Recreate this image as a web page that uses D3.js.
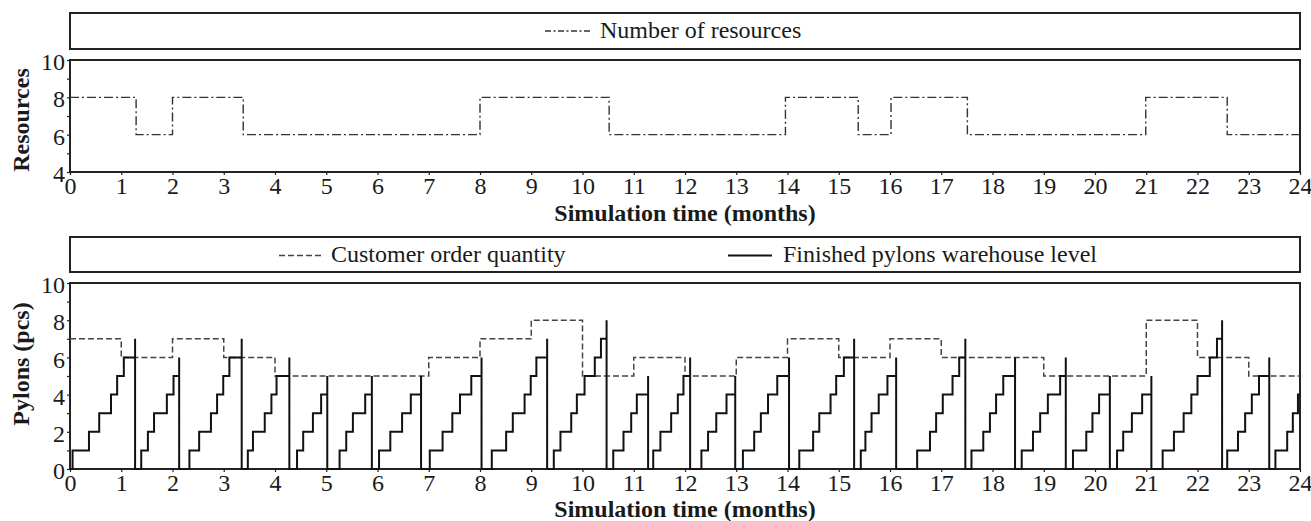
<!DOCTYPE html>
<html><head><meta charset="utf-8">
<script src="https://cdn.jsdelivr.net/npm/d3@7"></script>
<style>
body{margin:0;background:#fff;}
svg text{font-family:"Liberation Serif","Times New Roman",serif;fill:#1a1a1a;}
</style></head><body>
<svg id="c" width="1311" height="521"></svg>
<script>
// ---------- data ----------
const monthTicks = [0,1,2,3,4,5,6,7,8,9,10,11,12,13,14,15,16,17,18,19,20,21,22,23,24];
const resourceTickLabels = [4,6,8,10];
const resourceMinorTicks = [5,7,9];
const pylonTickLabels = [0,2,4,6,8,10];
const pylonMinorTicks = [1,3,5,7,9];

const resourceTimes  = [0, 1.29, 2.0, 3.38, 8.0, 10.52, 13.96, 15.38, 16.02, 17.51, 20.99, 22.58, 24];
const resourceValues = [8, 6,    8,   6,    8,   6,     8,     6,     8,     6,     8,     6,     6];

const orderTimes = [0,1,2,3,4,5,6,7,8,9,10,11,12,13,14,15,16,17,18,19,20,21,22,23,24];
const orderQty   = [7,6,7,6,5,5,5,6,7,8,5,6,5,6,7,6,7,6,6,5,5,8,6,5,5];

const warehouseTimes = [
  0,
  0.05,0.37,0.57,0.80,0.92,1.05,1.27,1.27,
  1.39,1.52,1.64,1.89,2.02,2.13,2.13,
  2.33,2.52,2.75,2.87,2.99,3.11,3.35,3.35,
  3.47,3.57,3.80,3.93,4.03,4.28,4.28,
  4.43,4.55,4.74,4.90,5.02,5.02,
  5.26,5.39,5.52,5.76,5.89,5.89,
  6.03,6.25,6.48,6.65,6.85,6.85,
  7.02,7.27,7.46,7.61,7.83,8.03,8.03,
  8.23,8.51,8.64,8.87,8.99,9.10,9.31,9.31,
  9.44,9.57,9.78,9.89,10.04,10.24,10.36,10.47,10.47,
  10.60,10.80,10.95,11.06,11.28,11.28,
  11.38,11.52,11.73,11.86,11.97,12.10,12.10,
  12.32,12.45,12.61,12.81,12.98,12.98,
  13.13,13.35,13.48,13.62,13.80,14.03,14.03,
  14.23,14.50,14.62,14.84,14.95,15.10,15.30,15.30,
  15.43,15.52,15.64,15.78,15.95,16.12,16.12,
  16.53,16.78,16.90,17.03,17.22,17.35,17.47,17.47,
  17.59,17.82,17.95,18.07,18.21,18.44,18.44,
  18.57,18.79,18.93,19.08,19.32,19.43,19.43,
  19.57,19.83,19.95,20.08,20.29,20.29,
  20.43,20.55,20.72,20.92,21.10,21.10,
  21.32,21.54,21.73,21.88,22.00,22.24,22.38,22.48,22.48,
  22.58,22.79,22.93,23.06,23.20,23.40,23.40,
  23.52,23.75,23.86,23.96,24
];
const warehouseLevels = [
  0,
  1,2,3,4,5,6,7,0,
  1,2,3,4,5,6,0,
  1,2,3,4,5,6,7,0,
  1,2,3,4,5,6,0,
  1,2,3,4,5,0,
  1,2,3,4,5,0,
  1,2,3,4,5,0,
  1,2,3,4,5,6,0,
  1,2,3,4,5,6,7,0,
  1,2,3,4,5,6,7,8,0,
  1,2,3,4,5,0,
  1,2,3,4,5,6,0,
  1,2,3,4,5,0,
  1,2,3,4,5,6,0,
  1,2,3,4,5,6,7,0,
  1,2,3,4,5,6,0,
  1,2,3,4,5,6,7,0,
  1,2,3,4,5,6,0,
  1,2,3,4,5,6,0,
  1,2,3,4,5,0,
  1,2,3,4,5,0,
  1,2,3,4,5,6,7,8,0,
  1,2,3,4,5,6,0,
  1,2,3,4,4
];

const xTitle = "Simulation time (months)";

// ---------- drawing ----------
const svg = d3.select("#c");
const FS = 24;
const x = d3.scaleLinear().domain([0,24]).range([70,1300]);
const yTop = d3.scaleLinear().domain([4,10]).range([172,60]);
const yBot = d3.scaleLinear().domain([0,10]).range([469,283]);
const frameColor = "#222";

function box(y0,y1){
  svg.append("rect").attr("x",x(0)).attr("y",y0).attr("width",x(24)-x(0)).attr("height",y1-y0)
    .attr("fill","none").attr("stroke",frameColor).attr("stroke-width",2);
}

function axes(y, labels, minor, title, titleY, yTitle, yTitleCY){
  const [yb, yt] = y.range();
  // x axis
  const gx = svg.append("g").attr("transform",`translate(0,${yb})`)
    .call(d3.axisBottom(x).tickValues(monthTicks).tickSize(3).tickPadding(2).tickFormat(d3.format("d")));
  gx.select(".domain").remove();
  gx.selectAll("text").attr("font-size",FS).attr("font-family","Liberation Serif");
  gx.selectAll("line").attr("stroke",frameColor).attr("stroke-width",1.2);
  // y axis
  const gy = svg.append("g").attr("transform",`translate(${x(0)},0)`)
    .call(d3.axisLeft(y).tickValues(labels).tickSize(3).tickPadding(2).tickFormat(d3.format("d")));
  gy.select(".domain").remove();
  gy.selectAll("text").attr("font-size",FS).attr("dy","0.4em").attr("font-family","Liberation Serif");
  gy.selectAll("line").attr("stroke",frameColor).attr("stroke-width",1.2);
  const gm = svg.append("g").attr("transform",`translate(${x(0)},0)`)
    .call(d3.axisLeft(y).tickValues(minor).tickSize(3).tickFormat(""));
  gm.select(".domain").remove();
  gm.selectAll("line").attr("stroke",frameColor).attr("stroke-width",1.2);
  // titles
  svg.append("text").attr("x",(x(0)+x(24))/2).attr("y",titleY).attr("text-anchor","middle")
    .attr("font-size",FS).attr("font-weight","bold").text(title);
  svg.append("text").attr("transform",`translate(28.5,${yTitleCY}) rotate(-90)`)
    .attr("text-anchor","middle").attr("font-size",FS).attr("font-weight","bold").text(yTitle);
}

// ----- top panel -----
box(13,49);
box(yTop(10), yTop(4));
axes(yTop, resourceTickLabels, resourceMinorTicks, xTitle, 221, "Resources", 120);

const resDash = "9,3,2,3";
const stepLine = (y) => d3.line().x(d=>x(d[0])).y(d=>y(d[1])).curve(d3.curveStepAfter);
svg.append("path").datum(resourceTimes.map((t,i)=>[t,resourceValues[i]]))
  .attr("d",stepLine(yTop)).attr("fill","none").attr("stroke","#333")
  .attr("stroke-width",1.4).attr("stroke-dasharray",resDash);

svg.append("line").attr("x1",545).attr("x2",590).attr("y1",31).attr("y2",31)
  .attr("stroke","#333").attr("stroke-width",1.4).attr("stroke-dasharray","6,2.5,2,2.5");
svg.append("text").attr("x",600).attr("y",38).attr("font-size",FS).text("Number of resources");

// ----- bottom panel -----
box(237,272);
box(yBot(10), yBot(0));
axes(yBot, pylonTickLabels, pylonMinorTicks, xTitle, 517, "Pylons (pcs)", 364);

svg.append("path").datum(orderTimes.map((t,i)=>[t,orderQty[i]]))
  .attr("d",stepLine(yBot)).attr("fill","none").attr("stroke","#444")
  .attr("stroke-width",1.5).attr("stroke-dasharray","6,3");

svg.append("path").datum(warehouseTimes.map((t,i)=>[t,warehouseLevels[i]]))
  .attr("d",stepLine(yBot)).attr("fill","none").attr("stroke","#111")
  .attr("stroke-width",2);

svg.append("line").attr("x1",279).attr("x2",321).attr("y1",255.5).attr("y2",255.5)
  .attr("stroke","#444").attr("stroke-width",1.5).attr("stroke-dasharray","6,3");
svg.append("text").attr("x",331).attr("y",262).attr("font-size",FS).text("Customer order quantity");
svg.append("line").attr("x1",728).attr("x2",772).attr("y1",255.5).attr("y2",255.5)
  .attr("stroke","#111").attr("stroke-width",2);
svg.append("text").attr("x",783).attr("y",262).attr("font-size",FS).text("Finished pylons warehouse level");
</script>
</body></html>
